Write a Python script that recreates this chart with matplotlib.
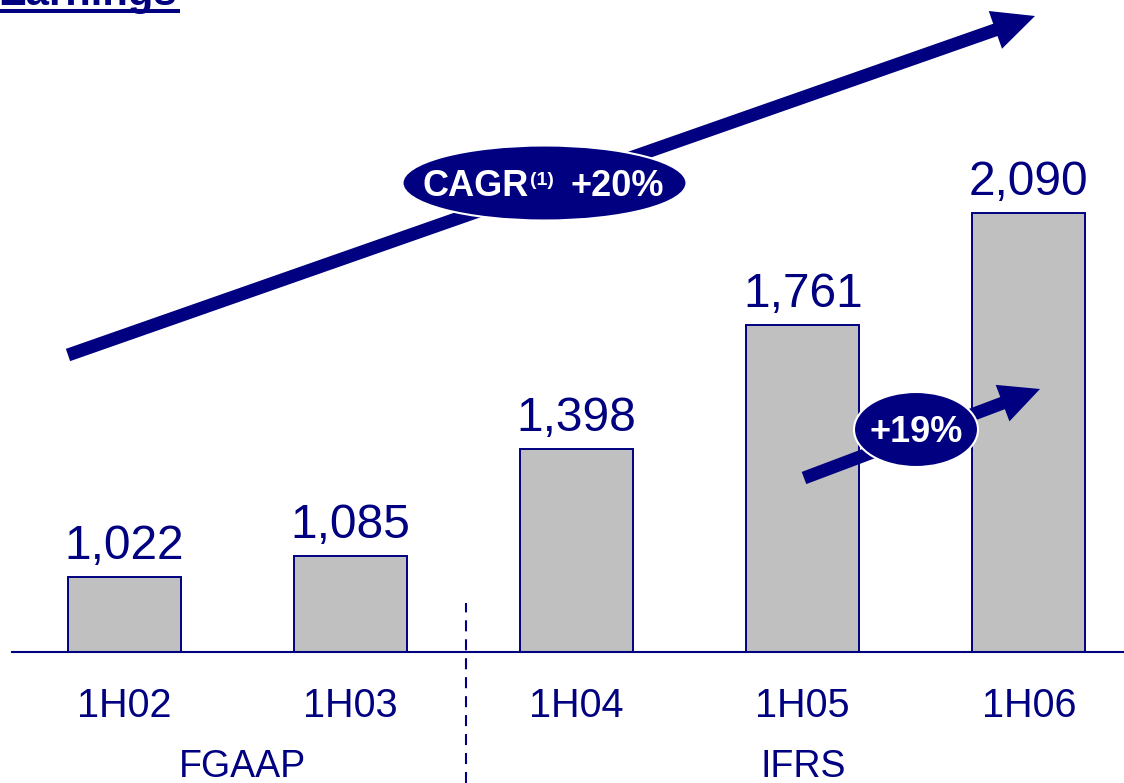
import matplotlib
matplotlib.use("Agg")
import matplotlib.pyplot as plt
from matplotlib.patches import Ellipse, FancyArrow

plt.rcParams["font.family"] = ["Liberation Sans", "DejaVu Sans"]

NAVY = "#000080"
GREY = "#C0C0C0"

# data
periods = ["1H02", "1H03", "1H04", "1H05", "1H06"]
earnings = [1022, 1085, 1398, 1761, 2090]
value_labels = ["1,022", "1,085", "1,398", "1,761", "2,090"]
standards = ["FGAAP", "IFRS"]
standard_pos = [0.52, 3.0]
cagr_text = "+20%"
growth_text = "+19%"

fig = plt.figure(figsize=(11.24, 7.83), dpi=100)

# main axes: bars in data units, axis floor sits at 802
ax = fig.add_axes([0, 0, 1, 1])
ax.set_xlim(-0.5507, 4.4207)
ax.set_ylim(418, 2715)
ax.axis("off")
ax.patch.set_alpha(0)

x = range(len(periods))
ax.bar(x, [v - 802 for v in earnings], bottom=802, width=0.5,
       color=GREY, edgecolor=NAVY, linewidth=1.4, zorder=2)
ax.axhline(802, xmin=12 / 1124, xmax=1, color=NAVY, lw=1.5, zorder=3)
ax.plot([1.51, 1.51], [418, 946], color=NAVY, lw=1.5,
        linestyle=(0, (5.3, 3.8)), zorder=3)

for i, (v, lab) in enumerate(zip(earnings, value_labels)):
    ax.annotate(lab, xy=(i, v), xytext=(0, 13), textcoords="offset points",
                ha="center", va="baseline", fontsize=34.5, color=NAVY)
    ax.annotate(periods[i], xy=(i, 802), xytext=(0, -46.8),
                textcoords="offset points", ha="center", va="baseline",
                fontsize=28.5, color=NAVY)

for name, pos in zip(standards, standard_pos):
    ax.annotate(name, xy=(pos, 802), xytext=(0, -90),
                textcoords="offset points", ha="center", va="baseline",
                fontsize=27, color=NAVY)

# overlay in pixel units for the decorations
ov = fig.add_axes([0, 0, 1, 1])
ov.set_xlim(0, 1124)
ov.set_ylim(783, 0)
ov.axis("off")
ov.patch.set_alpha(0)

# title, cut off at the top
ov.text(-2, 5, "Earnings", fontsize=30, fontweight="bold", color=NAVY,
        ha="left", va="baseline")
ov.plot([0, 180], [11, 11], color=NAVY, lw=2.9, solid_capstyle="butt")

# big CAGR arrow
ov.add_patch(FancyArrow(68, 355, 1035 - 68, 16 - 355, width=13,
                        head_width=40, head_length=42,
                        length_includes_head=True, color=NAVY, lw=0))
ov.add_patch(Ellipse((544.5, 183), 284, 75, facecolor=NAVY,
                     edgecolor="white", lw=1.5, zorder=4))
ov.text(422, 196, "CAGR", fontsize=26, fontweight="bold", color="white",
        ha="left", va="baseline", zorder=5)
ov.text(530, 185, "(1)", fontsize=14, fontweight="bold", color="white",
        ha="left", va="baseline", zorder=5)
ov.text(571, 196, cagr_text, fontsize=26, fontweight="bold", color="white",
        ha="left", va="baseline", zorder=5)

# small growth arrow
ov.add_patch(FancyArrow(804, 478, 1040 - 804, 389 - 478, width=13,
                        head_width=39, head_length=40,
                        length_includes_head=True, color=NAVY, lw=0))
ov.add_patch(Ellipse((916, 429.5), 124, 75, facecolor=NAVY,
                     edgecolor="white", lw=1.5, zorder=4))
ov.text(916, 442, growth_text, fontsize=26, fontweight="bold", color="white",
        ha="center", va="baseline", zorder=5)

fig.savefig("out.png", dpi=100)
